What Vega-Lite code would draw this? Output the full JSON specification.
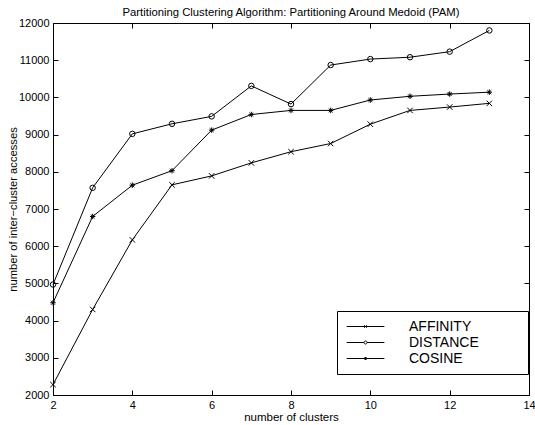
{
  "$schema": "https://vega.github.io/schema/vega-lite/v6.json",
  "width": 476,
  "height": 372,
  "autosize": {"type": "none"},
  "padding": {"left": 53, "top": 23, "right": 6, "bottom": 30},
  "title": {"text": "Partitioning Clustering Algorithm: Partitioning Around Medoid (PAM)", "font": "Liberation Sans", "fontSize": 11.3, "fontWeight": "normal", "color": "black", "offset": -1},
  "data": {"values": [
    {"k": 2, "v": 2280, "s": "AFFINITY"}, {"k": 3, "v": 4300, "s": "AFFINITY"}, {"k": 4, "v": 6170, "s": "AFFINITY"}, {"k": 5, "v": 7650, "s": "AFFINITY"}, {"k": 6, "v": 7890, "s": "AFFINITY"}, {"k": 7, "v": 8240, "s": "AFFINITY"}, {"k": 8, "v": 8540, "s": "AFFINITY"}, {"k": 9, "v": 8760, "s": "AFFINITY"}, {"k": 10, "v": 9280, "s": "AFFINITY"}, {"k": 11, "v": 9650, "s": "AFFINITY"}, {"k": 12, "v": 9740, "s": "AFFINITY"}, {"k": 13, "v": 9840, "s": "AFFINITY"},
    {"k": 2, "v": 4970, "s": "DISTANCE"}, {"k": 3, "v": 7570, "s": "DISTANCE"}, {"k": 4, "v": 9020, "s": "DISTANCE"}, {"k": 5, "v": 9290, "s": "DISTANCE"}, {"k": 6, "v": 9490, "s": "DISTANCE"}, {"k": 7, "v": 10310, "s": "DISTANCE"}, {"k": 8, "v": 9820, "s": "DISTANCE"}, {"k": 9, "v": 10870, "s": "DISTANCE"}, {"k": 10, "v": 11030, "s": "DISTANCE"}, {"k": 11, "v": 11080, "s": "DISTANCE"}, {"k": 12, "v": 11230, "s": "DISTANCE"}, {"k": 13, "v": 11800, "s": "DISTANCE"},
    {"k": 2, "v": 4480, "s": "COSINE"}, {"k": 3, "v": 6800, "s": "COSINE"}, {"k": 4, "v": 7640, "s": "COSINE"}, {"k": 5, "v": 8030, "s": "COSINE"}, {"k": 6, "v": 9120, "s": "COSINE"}, {"k": 7, "v": 9540, "s": "COSINE"}, {"k": 8, "v": 9650, "s": "COSINE"}, {"k": 9, "v": 9650, "s": "COSINE"}, {"k": 10, "v": 9930, "s": "COSINE"}, {"k": 11, "v": 10030, "s": "COSINE"}, {"k": 12, "v": 10090, "s": "COSINE"}, {"k": 13, "v": 10140, "s": "COSINE"}
  ]},
  "layer": [
    {
      "mark": {"type": "line", "color": "black", "strokeWidth": 1},
      "encoding": {
        "detail": {"field": "s"},
        "x": {"field": "k", "type": "quantitative", "scale": {"domain": [2, 14], "nice": false, "zero": false}, "axis": {"orient": "bottom", "title": "number of clusters", "values": [2, 4, 6, 8, 10, 12, 14], "format": "d", "titlePadding": 1, "titleFontSize": 11.5}},
        "y": {"field": "v", "type": "quantitative", "scale": {"domain": [2000, 12000], "nice": false, "zero": false}, "axis": {"orient": "left", "title": "number of inter−cluster accesses", "values": [2000, 3000, 4000, 5000, 6000, 7000, 8000, 9000, 10000, 11000, 12000], "format": "d", "titlePadding": 0, "titleFontSize": 11.2}}
      }
    },
    {
      "mark": {"type": "point", "filled": false, "color": "black", "strokeWidth": 1, "size": 30, "opacity": 1},
      "encoding": {
        "x": {"field": "k", "type": "quantitative", "axis": {"orient": "top", "labels": false, "title": null, "values": [2, 4, 6, 8, 10, 12, 14]}},
        "y": {"field": "v", "type": "quantitative", "axis": {"orient": "right", "labels": false, "title": null, "values": [2000, 3000, 4000, 5000, 6000, 7000, 8000, 9000, 10000, 11000, 12000]}},
        "shape": {"field": "s", "type": "nominal", "legend": null, "scale": {"domain": ["AFFINITY", "DISTANCE", "COSINE"], "range": ["M-1,-1L1,1M-1,1L1,-1", "circle", "M-1,0L1,0M0,-1L0,1M-0.7,-0.7L0.7,0.7M-0.7,0.7L0.7,-0.7"]}}
      }
    },
    {
      "mark": {"type": "point", "filled": false, "color": "black", "opacity": 0, "size": 196},
      "encoding": {
        "x": {"field": "k", "type": "quantitative", "axis": null},
        "y": {"field": "v", "type": "quantitative", "axis": null},
        "shape": {"field": "s", "type": "nominal", "scale": {"domain": ["AFFINITY", "DISTANCE", "COSINE"], "range": ["M-2.7,0L2.7,0M-0.18,-0.18L0.18,0.18M-0.18,0.18L0.18,-0.18", "M-2.7,0L-0.22,0M0.22,0L2.7,0M0.22,0A0.22,0.22,0,1,1,-0.22,0A0.22,0.22,0,1,1,0.22,0", "M-2.7,0L2.7,0M0,-0.2L0,0.2M-0.18,-0.12L0.18,0.12M-0.18,0.12L0.18,-0.12"]},
          "legend": {"orient": "none", "legendX": 284, "legendY": 288, "title": "\u00a0", "titleOrient": "right", "titlePadding": 41, "titleFontSize": 10, "strokeColor": "black", "fillColor": "white", "padding": 8, "symbolSize": 196, "symbolOffset": 13, "symbolOpacity": 1, "symbolStrokeColor": "black", "symbolStrokeWidth": 1, "symbolFillColor": "transparent", "labelFont": "Liberation Sans", "labelFontSize": 14, "labelColor": "black", "labelOffset": 36, "rowPadding": 1}
        }
      }
    }
  ],
  "resolve": {"axis": {"x": "independent", "y": "independent"}, "scale": {"shape": "independent"}},
  "config": {
    "view": {"stroke": "black", "strokeWidth": 1},
    "axis": {"grid": false, "domainColor": "black", "tickColor": "black", "labelColor": "black", "titleColor": "black", "labelFont": "Liberation Sans", "labelFontSize": 11, "titleFont": "Liberation Sans", "titleFontSize": 10, "titleFontWeight": "normal", "tickSize": -5, "labelPadding": 9, "labelFlush": false, "labelOverlap": false}
  }
}
